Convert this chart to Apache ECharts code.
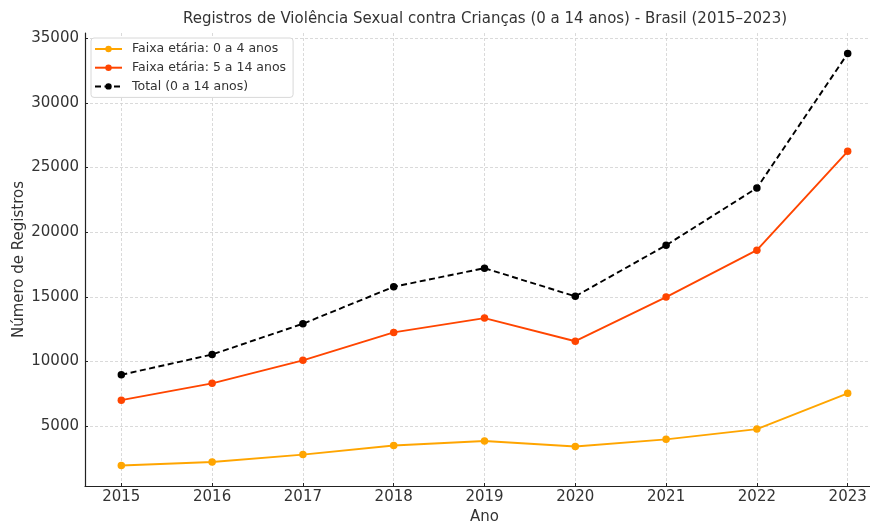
<!DOCTYPE html>
<html>
<head>
<meta charset="utf-8">
<script src="https://cdn.jsdelivr.net/npm/echarts@6/dist/echarts.min.js"></script>
<style>
    html, body { margin: 0; padding: 0; background: #fff; }
    #chart { width: 870px; height: 523px; }
</style>
</head>
<body>
<div id="chart"></div>
<script>
var anos = [2015, 2016, 2017, 2018, 2019, 2020, 2021, 2022, 2023];
var faixa0a4 = [1960, 2230, 2800, 3500, 3850, 3430, 3980, 4770, 7540];
var faixa5a14 = [7010, 8310, 10090, 12250, 13360, 11570, 14980, 18610, 26260];
var total = [8970, 10540, 12920, 15780, 17220, 15040, 18990, 23420, 33820];
var yTicks = [5000, 10000, 15000, 20000, 25000, 30000, 35000];

function pares(valores) {
    return anos.map(function (a, i) { return [a, valores[i]]; });
}

var fonte = 'DejaVu Sans';
var grade = { show: true, lineStyle: { color: '#d0d0d0', type: [3, 2], width: 0.8 } };

var chart = echarts.init(document.getElementById('chart'));
var option = {
    backgroundColor: '#fff',
    animation: false,
    title: {
        text: 'Registros de Violência Sexual contra Crianças (0 a 14 anos) - Brasil (2015–2023)',
        left: 480,
        textAlign: 'center',
        top: 7,
        textStyle: { fontFamily: fonte, fontSize: 15, fontWeight: 'normal', color: '#333' }
    },
    legend: {
        orient: 'vertical',
        left: 91,
        top: 38,
        padding: [4, 7, 4, 3],
        itemGap: 4.7,
        itemWidth: 27,
        itemHeight: 8,
        backgroundColor: '#fff',
        borderColor: '#d8d8d8',
        borderWidth: 1,
        borderRadius: 3,
        textStyle: { fontFamily: fonte, fontSize: 12.5, color: '#333', lineHeight: 14, padding: [0, 0, 0, 5] },
        data: ['Faixa etária: 0 a 4 anos', 'Faixa etária: 5 a 14 anos', 'Total (0 a 14 anos)']
    },
    grid: { left: 85, right: -14, top: 33, bottom: 37, outerBoundsMode: 'none' },
    xAxis: {
        type: 'value',
        min: 2014.6,
        max: 2023.4,
        name: 'Ano',
        nameLocation: 'middle',
        nameGap: 24,
        nameMoveOverlap: false,
        nameTextStyle: { fontFamily: fonte, fontSize: 15, color: '#333' },
        axisLine: { lineStyle: { color: '#222', width: 1.2 } },
        axisTick: { show: true, inside: true, length: 3, customValues: anos, lineStyle: { color: '#222' } },
        axisLabel: { customValues: anos, formatter: function (v) { return String(v); }, fontFamily: fonte, fontSize: 15, color: '#333', margin: 4 },
        splitLine: Object.assign({ customValues: anos }, grade)
    },
    yAxis: {
        type: 'value',
        min: 370,
        max: 35410,
        name: 'Número de Registros',
        nameLocation: 'middle',
        nameGap: 58,
        nameMoveOverlap: false,
        nameTextStyle: { fontFamily: fonte, fontSize: 15, color: '#333' },
        axisLine: { show: true, lineStyle: { color: '#222', width: 1.2 } },
        axisTick: { show: true, inside: true, length: 3, customValues: yTicks, lineStyle: { color: '#222' } },
        axisLabel: { customValues: yTicks, formatter: function (v) { return String(v); }, fontFamily: fonte, fontSize: 15, color: '#333', margin: 6 },
        splitLine: Object.assign({ customValues: yTicks }, grade)
    },
    series: [
        {
            name: 'Faixa etária: 0 a 4 anos',
            type: 'line',
            data: pares(faixa0a4),
            symbol: 'circle',
            symbolSize: 7.5,
            itemStyle: { color: '#FFA500' },
            lineStyle: { color: '#FFA500', width: 1.9 }
        },
        {
            name: 'Faixa etária: 5 a 14 anos',
            type: 'line',
            data: pares(faixa5a14),
            symbol: 'circle',
            symbolSize: 7.5,
            itemStyle: { color: '#FF4500' },
            lineStyle: { color: '#FF4500', width: 1.9 }
        },
        {
            name: 'Total (0 a 14 anos)',
            type: 'line',
            data: pares(total),
            symbol: 'circle',
            symbolSize: 7.5,
            itemStyle: { color: '#000' },
            lineStyle: { color: '#000', width: 1.9, type: [6, 3.5] }
        }
    ]
};
chart.setOption(option);
</script>
</body>
</html>
